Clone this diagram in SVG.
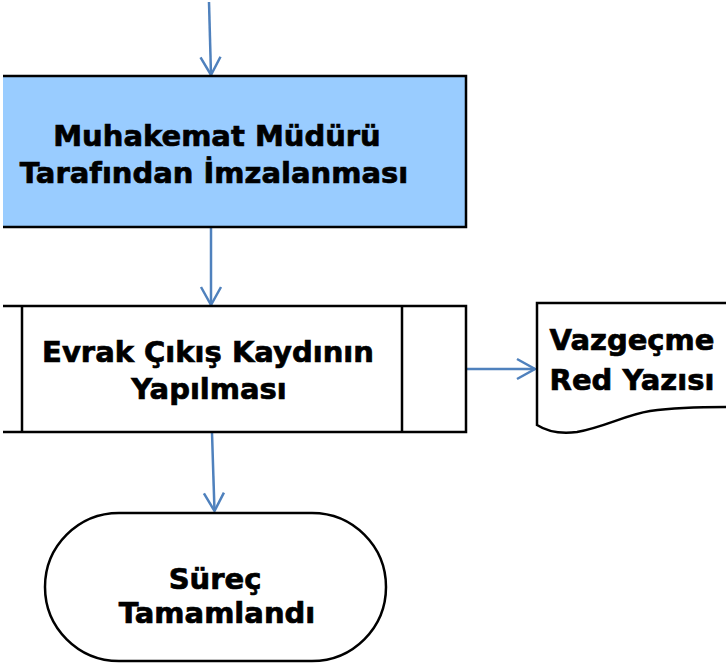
<svg xmlns="http://www.w3.org/2000/svg" width="726" height="669" viewBox="0 0 726 669">
  <style>
    .lbl { font-family: "DejaVu Sans", Verdana, sans-serif; font-weight: bold; font-size: 29px; fill: #000; stroke: #000; stroke-width: 0.7; text-anchor: middle; }
    .shape { stroke: #000; stroke-width: 2.5; }
    .conn { fill: none; stroke: #4F81BD; stroke-width: 2.5; }
  </style>
  <defs>
    <marker id="arrow" markerUnits="userSpaceOnUse" markerWidth="24" markerHeight="24" viewBox="-20 -12 24 24" refX="0" refY="0" orient="auto">
      <path d="M-18,-10 L0,0 L-18,10" fill="none" stroke="#4F81BD" stroke-width="2.5"/>
    </marker>
  </defs>
  <rect width="726" height="669" fill="#fff"/>

  <g id="connectors">
    <line class="conn" x1="209" y1="2" x2="211" y2="75" marker-end="url(#arrow)"/>
    <line class="conn" x1="211" y1="228" x2="211" y2="305" marker-end="url(#arrow)"/>
    <line class="conn" x1="212" y1="433" x2="214.5" y2="511" marker-end="url(#arrow)"/>
    <line class="conn" x1="467" y1="369" x2="535" y2="369" marker-end="url(#arrow)"/>
  </g>

  <g id="imza">
    <rect x="3" y="76" width="463" height="151" fill="#99CCFF"/>
    <path class="shape" d="M3,76 H466 V227 H3" fill="none"/>
    <text class="lbl" x="217" y="146">Muhakemat Müdürü</text>
    <text class="lbl" x="214" y="183">Tarafından İmzalanması</text>
  </g>

  <g id="evrak">
    <rect x="3" y="306" width="463" height="126" fill="#fff"/>
    <path class="shape" d="M3,306 H466 V432 H3 M22,306 V432 M402,306 V432" fill="none"/>
    <text class="lbl" x="208" y="362">Evrak Çıkış Kaydının</text>
    <text class="lbl" x="209" y="399">Yapılması</text>
  </g>

  <g id="vazgecme">
    <path class="shape" d="M728,303 H537 V425 C548,432 562,434 577,432 C605,427 625,415 650,411 C680,407 705,407 728,407" fill="#fff"/>
    <text class="lbl" x="632" y="350">Vazgeçme</text>
    <text class="lbl" x="632" y="390">Red Yazısı</text>
  </g>

  <g id="surec">
    <rect class="shape" x="45" y="513" width="341" height="148" rx="74" ry="74" fill="#fff"/>
    <text class="lbl" x="215" y="589">Süreç</text>
    <text class="lbl" x="217" y="623">Tamamlandı</text>
  </g>
</svg>
